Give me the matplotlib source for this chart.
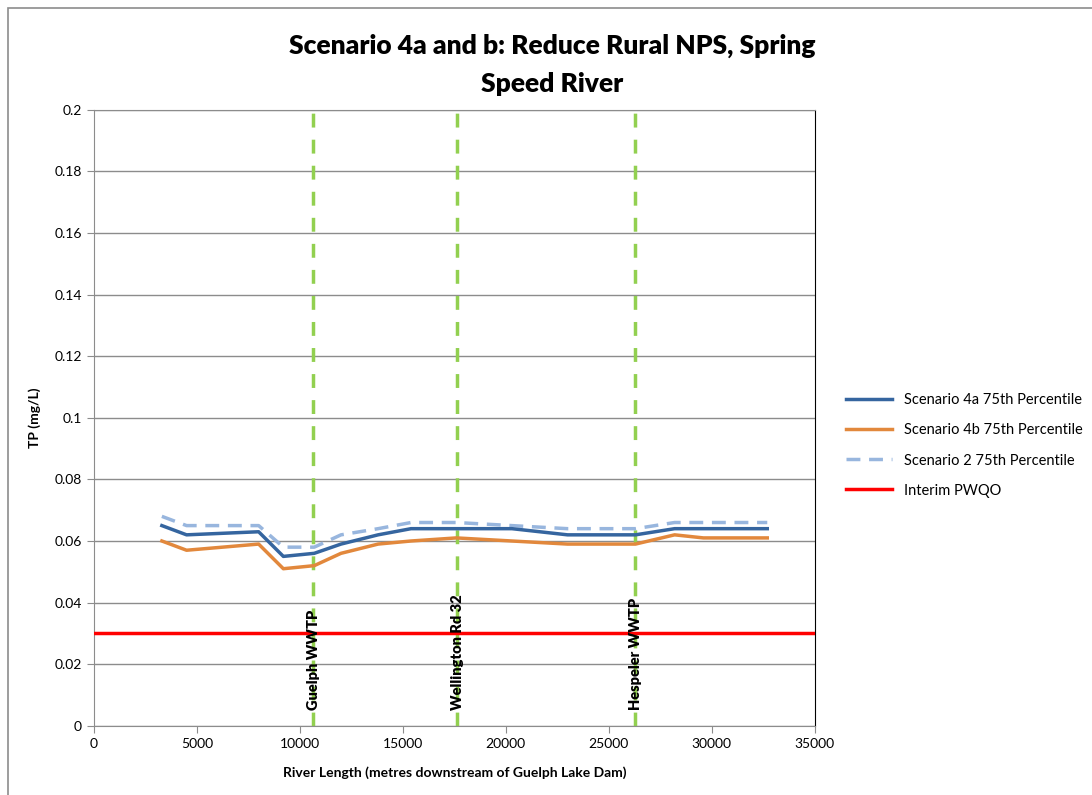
import matplotlib.pyplot as plt
from matplotlib.patches import Rectangle

plt.rcParams['font.family'] = ['Lato', 'DejaVu Sans']

# River distance (m downstream of Guelph Lake Dam) and 75th percentile TP (mg/L)
distance = [3300, 4500, 8000, 9200, 10700, 12000, 13800, 15400, 17600,
            20300, 23000, 26300, 28200, 29600, 32700]
scen_4a = [0.065, 0.062, 0.063, 0.055, 0.056, 0.059, 0.062, 0.064, 0.064,
           0.064, 0.062, 0.062, 0.064, 0.064, 0.064]
scen_4b = [0.060, 0.057, 0.059, 0.051, 0.052, 0.056, 0.059, 0.060, 0.061,
           0.060, 0.059, 0.059, 0.062, 0.061, 0.061]
scen_2 = [0.068, 0.065, 0.065, 0.058, 0.058, 0.062, 0.064, 0.066, 0.066,
          0.065, 0.064, 0.064, 0.066, 0.066, 0.066]
pwqo = 0.03

landmarks = ["Guelph WWTP", "Wellington Rd 32", "Hespeler WWTP"]
landmark_x = [10650, 17650, 26300]

fig = plt.figure(figsize=(10.92, 7.95), dpi=100)
fig.patches.append(Rectangle((0.007, -0.01), 1.0, 1.0, transform=fig.transFigure,
                             fill=False, edgecolor="#8c8c8c", linewidth=1.2))
ax = fig.add_axes([0.086, 0.087, 0.660, 0.775])

ax.set_xlim(0, 35000)
ax.set_ylim(0, 0.2)
ax.set_yticks([i * 0.02 for i in range(11)])
ax.set_yticklabels(["0", "0.02", "0.04", "0.06", "0.08", "0.1", "0.12", "0.14",
                    "0.16", "0.18", "0.2"])
ax.set_xticks(range(0, 35001, 5000))
ax.grid(axis="y", color="#8c8c8c", linewidth=1)
ax.set_axisbelow(True)

for xv, name in zip(landmark_x, landmarks):
    ax.axvline(xv, color="#92d050", linewidth=2.5, linestyle=(0, (4, 3.5)), zorder=2)
    ax.text(xv, 0.005, name, rotation=90, ha="center", va="bottom",
            fontsize=10.5, fontweight="heavy", zorder=5)

ax.plot(distance, scen_4a, color="#35659f", linewidth=2.5, label="Scenario 4a 75th Percentile", zorder=4)
ax.plot(distance, scen_4b, color="#e2883c", linewidth=2.5, label="Scenario 4b 75th Percentile", zorder=4)
ax.plot(distance, scen_2, color="#98b6de", linewidth=2.5, linestyle=(0, (4, 2.5)),
        label="Scenario 2 75th Percentile", zorder=3)
ax.axhline(pwqo, color="#ff0000", linewidth=2.5, label="Interim PWQO", zorder=4)

for side in ["left", "bottom", "top"]:
    ax.spines[side].set_color("#8c8c8c")
ax.spines["right"].set_color("black")
ax.tick_params(direction="out", length=5, color="#8c8c8c", labelsize=10)

ax.set_xlabel("River Length (metres downstream of Guelph Lake Dam)", fontsize=10,
              fontweight="bold", labelpad=12)
ax.set_ylabel("TP (mg/L)", fontsize=10, fontweight="bold", labelpad=10)

fig.text(0.506, 0.957, "Scenario 4a and b: Reduce Rural NPS, Spring\nSpeed River",
         ha="center", va="top", fontsize=19, fontweight="heavy", linespacing=1.7)

ax.legend(loc="center left", bbox_to_anchor=(1.025, 0.455), frameon=False,
          fontsize=10.5, handlelength=3.2, labelspacing=1.1)

fig.savefig("out.png", dpi=100)
